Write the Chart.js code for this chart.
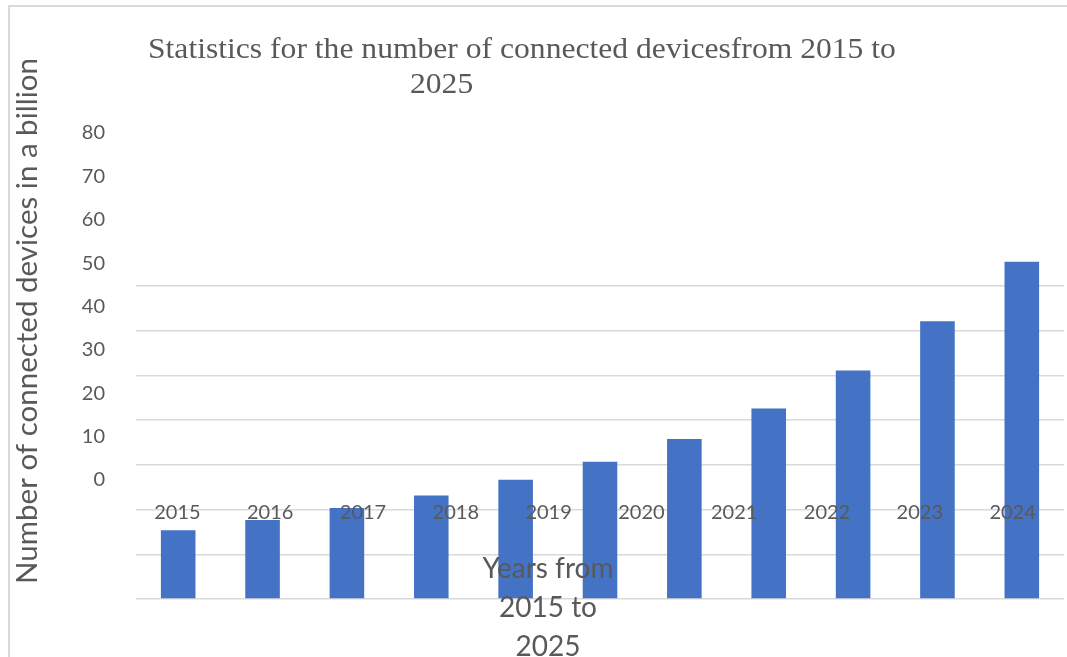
<!DOCTYPE html>
<html>
<head>
<meta charset="utf-8">
<script src="https://cdn.jsdelivr.net/npm/chart.js@4.4.1/dist/chart.umd.min.js"></script>
<style>
  html, body { margin: 0; padding: 0; background: #fff; overflow: hidden; }
  #wrap { position: relative; width: 1067px; height: 657px; }
  #frame { position: absolute; left: 8px; top: 5px; width: 1070px; height: 660px;
           border-left: 2px solid #d9d9d9; border-top: 2px solid #d9d9d9; }
  canvas { position: absolute; left: 0; top: 0; }
  .title { position: absolute; font-family: "Liberation Serif", serif; font-size: 29px;
           line-height: 29px; color: #595959; white-space: nowrap;
           transform: scaleX(1.09); transform-origin: left center; }
  #xtitle { position: absolute; left: 398px; top: 548px; width: 300px; text-align: center;
            font-family: Lato, sans-serif; font-size: 28px; line-height: 39px; color: #595959; }
</style>
</head>
<body>
<div id="wrap">
  <div id="frame"></div>
  <canvas id="chart"></canvas>
  <div class="title" style="left:148px; top:34px;">Statistics for the number of connected devicesfrom 2015 to</div>
  <div class="title" style="left:410px; top:69px;">2025</div>
  <div id="xtitle">Years from<br>2015 to<br>2025</div>
</div>
<script>
// bars: connected devices (billions)
const years = ['2015', '2016', '2017', '2018', '2019', '2020', '2021', '2022', '2023', '2024', '2025'];
const devices = [15.41, 17.68, 20.35, 23.14, 26.66, 30.73, 35.82, 42.62, 51.11, 62.12, 75.44];
// labels as they appear in the picture
const yearLabels = ['2015', '2016', '2017', '2018', '2019', '2020', '2021', '2022', '2023', '2024'];
const yTickLabels = [0, 10, 20, 30, 40, 50, 60, 70, 80];

const grey = '#595959';

const ctx = document.getElementById('chart');
ctx.width = 1067;
ctx.height = 657;

const chart = new Chart(ctx, {
  type: 'bar',
  data: {
    labels: years,
    datasets: [{
      label: 'Devices',
      data: devices,
      backgroundColor: '#4472c4',
      borderWidth: 0,
      barPercentage: 0.41,
      categoryPercentage: 1
    }]
  },
  options: {
    responsive: false,
    animation: false,
    // y2 tick padding pushes the top of the plot to 43 anyway
    layout: { padding: { left: 0, right: 3, top: 43, bottom: 58 } },
    plugins: { legend: { display: false }, tooltip: { enabled: false } },
    scales: {
      x: {
        ticks: { display: false },
        grid: { display: false, drawTicks: false },
        border: { display: false }
      },
      x2: {
        type: 'category',
        labels: yearLabels,
        offset: true,
        position: { y: 22 },
        ticks: { color: grey, padding: 0, z: 1, labelOffset: -5, font: { family: 'Lato', size: 20 } },
        grid: { display: false, drawTicks: false },
        border: { display: false }
      },
      y: {
        min: 0,
        max: 124.4,
        ticks: { display: false, stepSize: 10 },
        grid: {
          drawTicks: false,
          lineWidth: 1.5,
          color: c => (c.tick && c.tick.value <= 70) ? '#d9d9d9' : 'rgba(0,0,0,0)'
        },
        border: { display: false }
      },
      y2: {
        position: 'left',
        min: -27.43,
        max: 100.75,
        afterBuildTicks: s => { s.ticks = yTickLabels.map(v => ({ value: v })); },
        afterFit: s => { s.width = 136; },
        ticks: { color: grey, padding: 31, autoSkip: false, font: { family: 'Lato', size: 20 } },
        grid: { display: false, drawTicks: false },
        border: { display: false },
        title: {
          display: true,
          text: 'Number of connected devices in a billion',
          color: grey,
          padding: { top: 10, bottom: 0 },
          font: { family: 'Lato', size: 29.5 }
        }
      }
    }
  }
});
</script>
</body>
</html>
